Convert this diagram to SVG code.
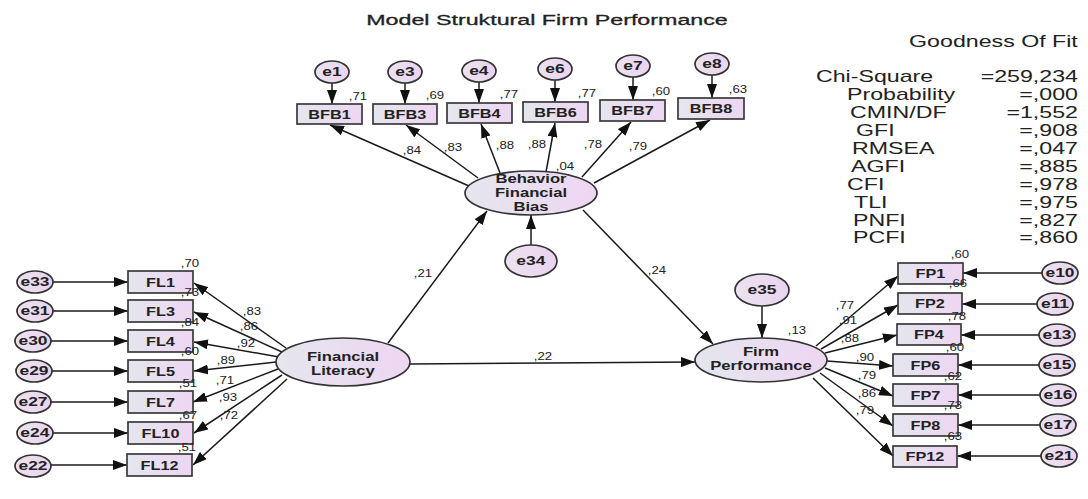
<svg xmlns="http://www.w3.org/2000/svg" width="1088" height="499" viewBox="0 0 1088 499">
<defs>
<linearGradient id="g" x1="0" y1="0" x2="1" y2="0">
<stop offset="0" stop-color="#e4e6ee"/><stop offset="1" stop-color="#eed6f2"/>
</linearGradient>
<linearGradient id="gc" x1="0" y1="0" x2="1" y2="0">
<stop offset="0" stop-color="#ece2f0"/><stop offset="1" stop-color="#ead4ef"/>
</linearGradient>
<marker id="a" viewBox="0 0 14 10" refX="14" refY="5" markerWidth="14" markerHeight="10" orient="auto" markerUnits="userSpaceOnUse">
<path d="M0,0L14,5L0,10z" fill="#111"/>
</marker>
<style>
text{font-family:"Liberation Sans",Arial,sans-serif;fill:#222;transform-box:fill-box}
.t{font-size:15.5px;text-anchor:middle;transform-origin:center;transform:scaleX(1.5);stroke:#222;stroke-width:0.3}
.n{font-size:13px;font-weight:bold;text-anchor:middle;transform-origin:center;transform:scaleX(1.25)}
.l{font-size:13px;font-weight:bold;text-anchor:middle;transform-origin:center;transform:scaleX(1.28)}
.e{font-size:12px;font-weight:bold;text-anchor:middle;transform-origin:center;transform:scaleX(1.45)}
.v{font-size:11px;text-anchor:middle;transform-origin:center;transform:scaleX(1.2)}
.gl{font-size:16px;transform-origin:left center;transform:scaleX(1.45)}
.gr{font-size:16px;text-anchor:end;transform-origin:right center;transform:scaleX(1.45)}
rect{fill:url(#g);stroke:#3a3a3a;stroke-width:1.7}
ellipse{fill:url(#g);stroke:#333;stroke-width:1.7}
.c ellipse{fill:url(#gc)}
#connectors line{stroke:#1a1a1a;stroke-width:1.5;marker-end:url(#a)}
</style>
</defs>
<rect x="0" y="0" width="1088" height="499" style="fill:#fff;stroke:none"/>
<text class="t" x="547" y="25">Model Struktural Firm Performance</text>

<g id="connectors">
<line x1="332" y1="83" x2="332" y2="104"/>
<line x1="405" y1="83" x2="405" y2="104"/>
<line x1="479" y1="82" x2="479" y2="103"/>
<line x1="555" y1="80" x2="555" y2="102"/>
<line x1="633" y1="77" x2="633" y2="100"/>
<line x1="712" y1="75" x2="712" y2="98"/>
<line x1="469" y1="186" x2="330" y2="125"/>
<line x1="478" y1="178" x2="406" y2="125"/>
<line x1="500" y1="173" x2="481" y2="124"/>
<line x1="546" y1="172" x2="555" y2="123"/>
<line x1="582" y1="177" x2="631" y2="122"/>
<line x1="594" y1="183" x2="710" y2="120"/>
<line x1="531" y1="245" x2="531" y2="215"/>
<line x1="388" y1="343" x2="487" y2="211"/>
<line x1="583" y1="210" x2="713" y2="344"/>
<line x1="410" y1="364" x2="695" y2="362"/>
<line x1="762" y1="306" x2="762" y2="338"/>
<line x1="53" y1="282" x2="128" y2="282"/>
<line x1="53" y1="311" x2="128" y2="311"/>
<line x1="51" y1="341" x2="128" y2="341"/>
<line x1="52" y1="371" x2="128" y2="371"/>
<line x1="51" y1="402" x2="128" y2="402"/>
<line x1="53" y1="433" x2="128" y2="433"/>
<line x1="51" y1="465" x2="127" y2="465"/>
<line x1="286" y1="348" x2="194" y2="283"/>
<line x1="282" y1="352" x2="194" y2="312"/>
<line x1="279" y1="357" x2="194" y2="342"/>
<line x1="276" y1="362" x2="194" y2="371"/>
<line x1="278" y1="369" x2="193" y2="402"/>
<line x1="282" y1="375" x2="194" y2="433"/>
<line x1="287" y1="379" x2="193" y2="465"/>
<line x1="816" y1="346" x2="898" y2="276"/>
<line x1="821" y1="349" x2="898" y2="305"/>
<line x1="825" y1="353" x2="897" y2="335"/>
<line x1="827" y1="361" x2="893" y2="366"/>
<line x1="825" y1="368" x2="893" y2="396"/>
<line x1="820" y1="373" x2="893" y2="426"/>
<line x1="813" y1="378" x2="893" y2="456"/>
<line x1="1042" y1="273" x2="963" y2="273"/>
<line x1="1037" y1="304" x2="962" y2="304"/>
<line x1="1039" y1="335" x2="961" y2="335"/>
<line x1="1039" y1="365" x2="958" y2="365"/>
<line x1="1040" y1="395" x2="958" y2="395"/>
<line x1="1040" y1="425" x2="958" y2="425"/>
<line x1="1041" y1="456" x2="957" y2="456"/>
</g>

<g id="BFB1"><rect x="297" y="104" width="65" height="20"/><text class="n" x="329.5" y="119">BFB1</text></g>
<g id="BFB3"><rect x="373" y="104" width="64" height="20"/><text class="n" x="405" y="119">BFB3</text></g>
<g id="BFB4"><rect x="447" y="103" width="65" height="20"/><text class="n" x="479.5" y="118">BFB4</text></g>
<g id="BFB6"><rect x="523" y="102" width="65" height="20"/><text class="n" x="555.5" y="117">BFB6</text></g>
<g id="BFB7"><rect x="600" y="100" width="65" height="21"/><text class="n" x="632.5" y="115.5">BFB7</text></g>
<g id="BFB8"><rect x="678" y="98" width="66" height="21"/><text class="n" x="711" y="113.5">BFB8</text></g>

<g id="e1" class="c"><ellipse cx="332" cy="72" rx="17" ry="11"/><text class="e" x="332" y="76.5">e1</text></g>
<g id="e3" class="c"><ellipse cx="405" cy="72" rx="17" ry="11"/><text class="e" x="405" y="76.5">e3</text></g>
<g id="e4" class="c"><ellipse cx="479" cy="71" rx="17" ry="11"/><text class="e" x="479" y="75.5">e4</text></g>
<g id="e6" class="c"><ellipse cx="555" cy="69" rx="17" ry="11"/><text class="e" x="555" y="73.5">e6</text></g>
<g id="e7" class="c"><ellipse cx="633" cy="66" rx="17" ry="11"/><text class="e" x="633" y="70.5">e7</text></g>
<g id="e8" class="c"><ellipse cx="712" cy="64" rx="17" ry="11"/><text class="e" x="712" y="68.5">e8</text></g>

<g id="BFB"><ellipse cx="531" cy="193" rx="66" ry="22"/>
<text class="l" x="531" y="183">Behavior</text><text class="l" x="531" y="197">Financial</text><text class="l" x="531" y="211">Bias</text></g>
<g id="e34" class="c"><ellipse cx="531" cy="261" rx="26" ry="16"/><text class="e" x="531" y="265.5">e34</text></g>

<g id="FL"><ellipse cx="343" cy="362" rx="67" ry="24"/>
<text class="l" x="343" y="361">Financial</text><text class="l" x="343" y="375">Literacy</text></g>
<g id="FL1"><rect x="128" y="271" width="65" height="22"/><text class="n" x="160.5" y="287">FL1</text></g>
<g id="FL3"><rect x="128" y="300" width="65" height="22"/><text class="n" x="160.5" y="316">FL3</text></g>
<g id="FL4"><rect x="128" y="330" width="65" height="22"/><text class="n" x="160.5" y="346">FL4</text></g>
<g id="FL5"><rect x="128" y="360" width="65" height="22"/><text class="n" x="160.5" y="376">FL5</text></g>
<g id="FL7"><rect x="128" y="391" width="65" height="22"/><text class="n" x="160.5" y="407">FL7</text></g>
<g id="FL10"><rect x="128" y="422" width="65" height="22"/><text class="n" x="160.5" y="438">FL10</text></g>
<g id="FL12"><rect x="127" y="454" width="65" height="22"/><text class="n" x="159.5" y="470">FL12</text></g>

<g id="e33" class="c"><ellipse cx="35" cy="282" rx="18" ry="11"/><text class="e" x="35" y="286.5">e33</text></g>
<g id="e31" class="c"><ellipse cx="35" cy="311" rx="18" ry="11"/><text class="e" x="35" y="315.5">e31</text></g>
<g id="e30" class="c"><ellipse cx="33" cy="341" rx="18" ry="11"/><text class="e" x="33" y="345.5">e30</text></g>
<g id="e29" class="c"><ellipse cx="34" cy="371" rx="18" ry="11"/><text class="e" x="34" y="375.5">e29</text></g>
<g id="e27" class="c"><ellipse cx="33" cy="402" rx="18" ry="11"/><text class="e" x="33" y="406.5">e27</text></g>
<g id="e24" class="c"><ellipse cx="35" cy="433" rx="18" ry="11"/><text class="e" x="35" y="437.5">e24</text></g>
<g id="e22" class="c"><ellipse cx="33" cy="466" rx="18" ry="11"/><text class="e" x="33" y="470.5">e22</text></g>

<g id="FP"><ellipse cx="761" cy="360" rx="66" ry="22"/>
<text class="l" x="761" y="356">Firm</text><text class="l" x="761" y="370">Performance</text></g>
<g id="e35" class="c"><ellipse cx="762" cy="290" rx="27" ry="16"/><text class="e" x="762" y="294.5">e35</text></g>
<g id="FP1"><rect x="898" y="263" width="65" height="21"/><text class="n" x="930.5" y="278.5">FP1</text></g>
<g id="FP2"><rect x="898" y="293" width="64" height="21"/><text class="n" x="930" y="308.5">FP2</text></g>
<g id="FP4"><rect x="897" y="324" width="64" height="21"/><text class="n" x="929" y="339.5">FP4</text></g>
<g id="FP6"><rect x="893" y="354" width="65" height="22"/><text class="n" x="925.5" y="370">FP6</text></g>
<g id="FP7"><rect x="893" y="384" width="65" height="22"/><text class="n" x="925.5" y="400">FP7</text></g>
<g id="FP8"><rect x="893" y="414" width="65" height="22"/><text class="n" x="925.5" y="430">FP8</text></g>
<g id="FP12"><rect x="893" y="446" width="64" height="21"/><text class="n" x="925" y="461.5">FP12</text></g>

<g id="e10" class="c"><ellipse cx="1060" cy="273" rx="18" ry="11"/><text class="e" x="1060" y="277.5">e10</text></g>
<g id="e11" class="c"><ellipse cx="1055" cy="304" rx="18" ry="11"/><text class="e" x="1055" y="308.5">e11</text></g>
<g id="e13" class="c"><ellipse cx="1057" cy="335" rx="18" ry="11"/><text class="e" x="1057" y="339.5">e13</text></g>
<g id="e15" class="c"><ellipse cx="1057" cy="365" rx="18" ry="11"/><text class="e" x="1057" y="369.5">e15</text></g>
<g id="e16" class="c"><ellipse cx="1058" cy="395" rx="18" ry="11"/><text class="e" x="1058" y="399.5">e16</text></g>
<g id="e17" class="c"><ellipse cx="1058" cy="425" rx="18" ry="11"/><text class="e" x="1058" y="429.5">e17</text></g>
<g id="e21" class="c"><ellipse cx="1059" cy="456" rx="18" ry="11"/><text class="e" x="1059" y="460.5">e21</text></g>

<g id="estimates">
<text class="v" x="358" y="100">,71</text><text class="v" x="435" y="99">,69</text><text class="v" x="509" y="98">,77</text>
<text class="v" x="587" y="97">,77</text><text class="v" x="661" y="95">,60</text><text class="v" x="738" y="93">,63</text>
<text class="v" x="412" y="154">,84</text><text class="v" x="453" y="151">,83</text><text class="v" x="505" y="149">,88</text>
<text class="v" x="537" y="148">,88</text><text class="v" x="593" y="148">,78</text><text class="v" x="638" y="150">,79</text>
<text class="v" x="565" y="170">,04</text>
<text class="v" x="423" y="277">,21</text><text class="v" x="657" y="274">,24</text><text class="v" x="543" y="360">,22</text>
<text class="v" x="797" y="334">,13</text>
<text class="v" x="190" y="267">,70</text><text class="v" x="190" y="296">,73</text><text class="v" x="190" y="326">,84</text>
<text class="v" x="190" y="355">,60</text><text class="v" x="188" y="387">,51</text><text class="v" x="188" y="419">,67</text>
<text class="v" x="187" y="451">,51</text>
<text class="v" x="252" y="315">,83</text><text class="v" x="249" y="330">,86</text><text class="v" x="246" y="347">,92</text>
<text class="v" x="226" y="364">,89</text><text class="v" x="225" y="384">,71</text><text class="v" x="228" y="401">,93</text>
<text class="v" x="229" y="419">,72</text>
<text class="v" x="960" y="258">,60</text><text class="v" x="958" y="287">,66</text><text class="v" x="957" y="320">,78</text>
<text class="v" x="955" y="351">,60</text><text class="v" x="953" y="380">,62</text><text class="v" x="953" y="409">,73</text>
<text class="v" x="953" y="440">,63</text>
<text class="v" x="845" y="309">,77</text><text class="v" x="848" y="324">,91</text><text class="v" x="850" y="342">,88</text>
<text class="v" x="865" y="361">,90</text><text class="v" x="867" y="379">,79</text><text class="v" x="867" y="397">,86</text>
<text class="v" x="865" y="414">,79</text>
</g>

<g id="fit">
<text class="gr" x="1078" y="47">Goodness Of Fit</text>
<text class="gl" x="816" y="82">Chi-Square</text><text class="gr" x="1078" y="82">=259,234</text>
<text class="gl" x="847" y="100">Probability</text><text class="gr" x="1078" y="100">=,000</text>
<text class="gl" x="850" y="118">CMIN/DF</text><text class="gr" x="1078" y="118">=1,552</text>
<text class="gl" x="856" y="136">GFI</text><text class="gr" x="1078" y="136">=,908</text>
<text class="gl" x="852" y="154">RMSEA</text><text class="gr" x="1078" y="154">=,047</text>
<text class="gl" x="851" y="172">AGFI</text><text class="gr" x="1078" y="172">=,885</text>
<text class="gl" x="847" y="190">CFI</text><text class="gr" x="1078" y="190">=,978</text>
<text class="gl" x="854" y="208">TLI</text><text class="gr" x="1078" y="208">=,975</text>
<text class="gl" x="853" y="226">PNFI</text><text class="gr" x="1078" y="226">=,827</text>
<text class="gl" x="853" y="243">PCFI</text><text class="gr" x="1078" y="243">=,860</text>
</g>
</svg>
